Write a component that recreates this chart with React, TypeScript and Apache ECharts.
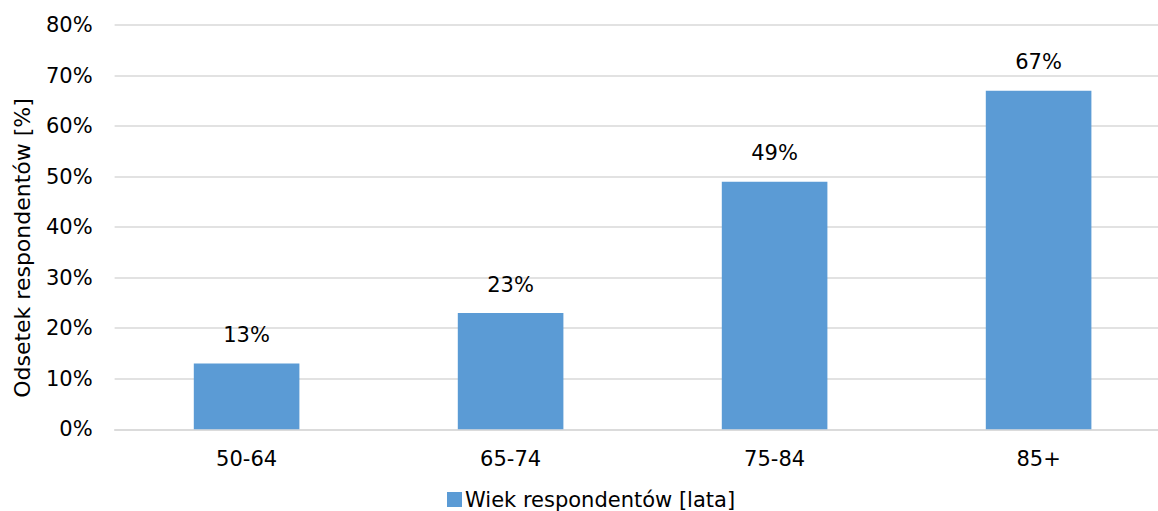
import React, { useEffect, useRef } from "react";
import * as echarts from "echarts";

const categories = ["50-64", "65-74", "75-84", "85+"];
const values = [13, 23, 49, 67];
const seriesName = "Wiek respondentów [lata]";
const yAxisTitle = "Odsetek respondentów [%]";

const FONT = "DejaVu Sans, Verdana, sans-serif";
const FS = 21;

export default function App() {
  const ref = useRef<HTMLDivElement>(null);
  useEffect(() => {
    if (!ref.current) return;
    const chart = echarts.init(ref.current, undefined, { renderer: "svg" });
    chart.setOption({
      animation: false,
      backgroundColor: "#ffffff",
      textStyle: { fontFamily: FONT },
      grid: { left: 114.6, top: 25, width: 1056, height: 404.3 },
      legend: {
        data: [seriesName],
        left: 442,
        top: 484,
        icon: "rect",
        itemWidth: 15,
        itemHeight: 15,
        itemGap: 10,
        textStyle: { fontSize: FS, color: "#000", fontFamily: FONT, padding: [0, 0, 0, -2] },
      },
      xAxis: {
        type: "category",
        data: categories,
        axisLine: { lineStyle: { color: "#D9D9D9", width: 1.5 } },
        axisTick: { show: false },
        axisLabel: { fontSize: FS, color: "#000", margin: 19, fontFamily: FONT },
      },
      yAxis: {
        type: "value",
        min: 0,
        max: 80,
        interval: 10,
        axisLine: { show: false },
        axisTick: { show: false },
        axisLabel: { fontSize: FS, color: "#000", margin: 22, formatter: "{value}%", fontFamily: FONT },
        splitLine: { lineStyle: { color: "#D9D9D9", width: 1.5 } },
      },
      graphic: [
        {
          type: "text",
          x: 22,
          y: 248,
          rotation: Math.PI / 2,
          style: {
            text: yAxisTitle,
            fontSize: 22,
            fontFamily: FONT,
            fill: "#000",
            align: "center",
            verticalAlign: "middle",
          },
        },
      ],
      series: [
        {
          name: seriesName,
          type: "bar",
          data: values,
          barWidth: "40%",
          itemStyle: { color: "#5B9BD5" },
          label: {
            show: true,
            position: "top",
            distance: 18,
            formatter: "{c}%",
            fontSize: FS,
            color: "#000",
            fontFamily: FONT,
          },
        },
      ],
    });
    return () => chart.dispose();
  }, []);
  return (
    <div
      ref={ref}
      style={{ position: "fixed", left: 0, top: 0, width: 1200, height: 511 }}
    />
  );
}
